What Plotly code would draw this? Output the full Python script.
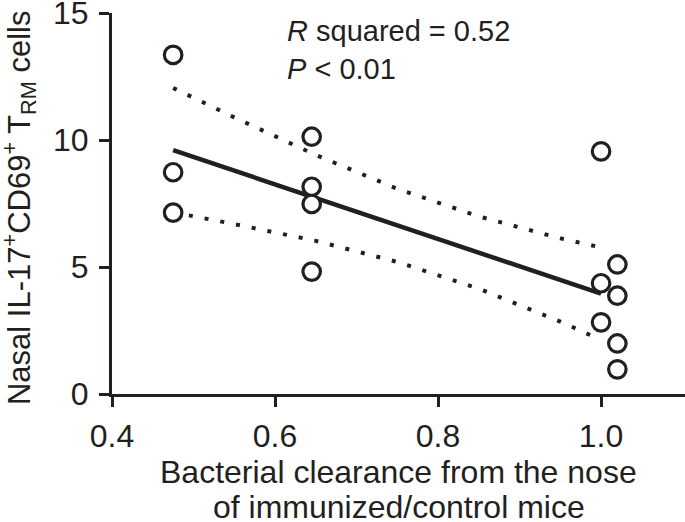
import plotly.graph_objects as go

# Data
pts_x = [0.475, 0.475, 0.475,
         0.645, 0.645, 0.645, 0.645,
         1.0, 1.0, 1.0,
         1.02, 1.02, 1.02, 1.02]
pts_y = [13.35, 8.73, 7.14,
         10.13, 8.16, 7.48, 4.82,
         9.55, 4.36, 2.82,
         5.10, 3.87, 1.99, 0.97]

fit_x = [0.475, 1.0]
fit_y = [9.60, 3.95]

band_x = [0.475, 0.55, 0.65, 0.75, 0.85, 0.95, 1.0]
band_upper = [12.05, 10.89, 9.41, 8.08, 6.99, 6.13, 5.77]
band_lower = [7.15, 6.69, 6.03, 5.20, 4.15, 2.85, 2.13]

x_ticks = [0.4, 0.6, 0.8, 1.0]
x_ticklabels = ["0.4", "0.6", "0.8", "1.0"]
y_ticks = [0, 5, 10, 15]

INK = "#231f20"
FONT = "Liberation Sans, Arial, sans-serif"

fig = go.Figure()
for yy in (band_upper, band_lower):
    fig.add_trace(go.Scatter(x=band_x, y=yy, mode="lines",
                             line=dict(color=INK, width=4, dash="4px,12px"),
                             hoverinfo="skip", showlegend=False))
fig.add_trace(go.Scatter(x=fit_x, y=fit_y, mode="lines",
                         line=dict(color=INK, width=4.5),
                         showlegend=False))
fig.add_trace(go.Scatter(x=pts_x, y=pts_y, mode="markers",
                         marker=dict(symbol="circle", size=17.5, color="white",
                                     line=dict(color=INK, width=3.2)),
                         cliponaxis=False, showlegend=False))

axis_common = dict(showgrid=False, zeroline=False, showline=True,
                   linecolor=INK, linewidth=3, ticks="outside", ticklen=10,
                   tickwidth=3, tickcolor=INK, tickfont=dict(size=32),
                   automargin=False, ticklabeloverflow="allow")

fig.update_layout(
    width=685, height=522,
    margin=dict(l=112, r=0, t=13, b=128),
    paper_bgcolor="white", plot_bgcolor="white",
    font=dict(family=FONT, size=30, color=INK),
    xaxis=dict(range=[0.4, 1.103], tickvals=x_ticks, ticktext=x_ticklabels,
               ticklabelstandoff=2, **axis_common),
    yaxis=dict(range=[0, 15.0], tickmode="array", tickvals=y_ticks,
               ticktext=[str(v) for v in y_ticks],
               ticklabelstandoff=4, **axis_common),
    annotations=[
        dict(text="<i>R</i> squared = 0.52", xref="paper", yref="paper",
             x=0.302, y=0.953, xanchor="left", yanchor="middle",
             showarrow=False, font=dict(size=29)),
        dict(text="<i>P</i> < 0.01", xref="paper", yref="paper",
             x=0.302, y=0.853, xanchor="left", yanchor="middle",
             showarrow=False, font=dict(size=29)),
        dict(text="Bacterial clearance from the nose", xref="paper", yref="paper",
             x=0.5, y=-0.2047, xanchor="center", yanchor="middle",
             showarrow=False, font=dict(size=32)),
        dict(text="of immunized/control mice", xref="paper", yref="paper",
             x=0.5, y=-0.2966, xanchor="center", yanchor="middle",
             showarrow=False, font=dict(size=32)),
        dict(text="Nasal IL-17<sup>+</sup>CD69<sup>+</sup> T<sub>RM</sub> cells",
             xref="paper", yref="paper", x=-0.1623, y=0.488,
             xanchor="center", yanchor="middle", textangle=-90,
             showarrow=False, font=dict(size=31)),
    ],
)

fig.write_html("out.html",
               config={"displayModeBar": False},
               post_script="document.body.style.margin='0';"
                           "document.body.style.padding='0';"
                           "document.body.style.overflow='hidden';")
